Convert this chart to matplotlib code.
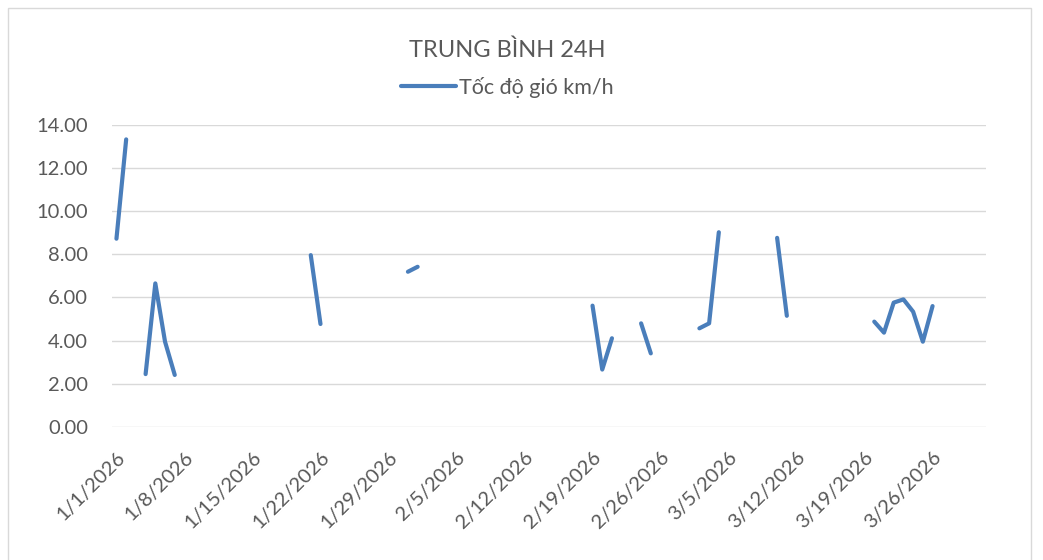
import matplotlib
matplotlib.use("Agg")
import matplotlib.pyplot as plt
from matplotlib.patches import Rectangle
import pandas as pd

plt.rcParams['font.family'] = ['Lato', 'DejaVu Sans']

title = "TRUNG BÌNH 24H"
series_name = "Tốc độ gió km/h"

dates = ["2026-01-01", "2026-01-02", "2026-01-04", "2026-01-05", "2026-01-06", "2026-01-07",
         "2026-01-21", "2026-01-22", "2026-01-31", "2026-02-01",
         "2026-02-19", "2026-02-20", "2026-02-21", "2026-02-24", "2026-02-25",
         "2026-03-02", "2026-03-03", "2026-03-04", "2026-03-10", "2026-03-11",
         "2026-03-20", "2026-03-21", "2026-03-22", "2026-03-23", "2026-03-24", "2026-03-25", "2026-03-26"]
values = [8.72, 13.32, 2.45, 6.65, 3.95, 2.41,
          7.96, 4.77, 7.19, 7.42,
          5.62, 2.66, 4.11, 4.80, 3.41,
          4.57, 4.80, 9.02, 8.76, 5.15,
          4.88, 4.37, 5.76, 5.91, 5.34, 3.95, 5.60]
axis_start = "2026-01-01"
axis_end = "2026-03-31"
y_ticks = [0, 2, 4, 6, 8, 10, 12, 14]

s = pd.Series(values, index=pd.to_datetime(dates))
full_idx = pd.date_range(axis_start, axis_end, freq="D")
s = s.reindex(full_idx)

W, H = 1043, 560
fig = plt.figure(figsize=(W / 100, H / 100), dpi=100)
fig.patch.set_facecolor("white")

left_px, right_px, top_px, bot_px = 111.6, 986, 124.7, 427
ax = fig.add_axes([left_px / W, 1 - bot_px / H, (right_px - left_px) / W, (bot_px - top_px) / H])

ax.plot(s.index, s.values, color="#4A7EBB", lw=3.0, solid_capstyle="round",
        solid_joinstyle="round", label=series_name)

half = pd.Timedelta(hours=12)
ax.set_xlim(pd.Timestamp(axis_start) - half, pd.Timestamp(axis_end) + half)
ax.set_ylim(0, 14)

ax.set_yticks(y_ticks)
ax.set_yticklabels([f"{v:.2f}" for v in y_ticks])
xt = pd.date_range(axis_start, axis_end, freq="7D")
ax.set_xticks(xt)
ax.set_xticklabels([f"{d.month}/{d.day}/{d.year}" for d in xt])

for sp in ax.spines.values():
    sp.set_visible(False)
ax.yaxis.grid(True, color="#D9D9D9", lw=1.0)
ax.set_axisbelow(True)
ax.tick_params(axis="y", length=0, pad=17, labelsize=14.5, labelcolor="#595959")
ax.tick_params(axis="x", length=0, pad=15.5, labelsize=14.5, labelcolor="#595959")
for lab in ax.get_xticklabels():
    lab.set_rotation(45)
    lab.set_ha("right")
    lab.set_va("top")
    lab.set_rotation_mode("anchor")

fig.text(507.5 / W, 1 - 50 / H, title, ha="center", va="center", fontsize=17, color="#595959")
leg = fig.legend(loc="center", bbox_to_anchor=(507.5 / W, 1 - 87 / H), frameon=False,
                 fontsize=15.5, handlelength=2.56, handletextpad=0.12, borderpad=0)
for t in leg.get_texts():
    t.set_color("#595959")

fig.patches.append(Rectangle((8 / W, -0.05), (1031 - 8) / W, 1 - 8 / H + 0.05,
                             transform=fig.transFigure, fill=False, edgecolor="#D9D9D9", lw=1.0))

fig.savefig("out.png", dpi=100)
